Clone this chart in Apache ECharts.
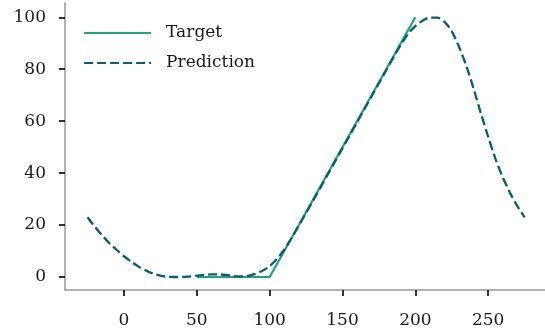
<!DOCTYPE html>
<html>
<head>
<meta charset="utf-8">
<script src="https://cdn.jsdelivr.net/npm/echarts@6/dist/echarts.min.js"></script>
<style>
  html, body { margin: 0; padding: 0; background: #fff; }
  #chart { width: 545px; height: 332px; }
</style>
</head>
<body>
<div id="chart"></div>
<script>
// Target: flat at zero, then a linear ramp up to 100
const targetX = [50, 100, 200];
const targetY = [0, 0, 100];

// Model prediction sampled every 5 units
const predX = [-25, -20, -15, -10, -5, 0, 5, 10, 15, 20, 25, 30, 35, 40, 45, 50, 55, 60, 65, 70,
  75, 80, 85, 90, 95, 100, 105, 110, 115, 120, 125, 130, 135, 140, 145, 150, 155, 160, 165, 170,
  175, 180, 185, 190, 195, 200, 205, 210, 215, 220, 225, 230, 235, 240, 245, 250, 255, 260, 265, 270, 275];
const predY = [23, 19.3, 16, 13, 10.4, 8, 5.9, 4, 2.5, 1.3, 0.5, 0.1, 0, 0, 0.2, 0.5, 0.8, 1, 1, 0.8,
  0.4, 0.2, 0.4, 1.2, 2.4, 4.2, 7, 10.5, 15, 19.8, 24.7, 29.6, 34.6, 39.6, 44.6, 49.6, 54.6, 59.6, 64.6, 69.6,
  74.6, 79.6, 84.6, 89.4, 93.6, 96.6, 98.7, 99.9, 99.9, 98.2, 94.6, 88.6, 81.3, 72.5, 63, 54, 45.5, 38.4, 32.4, 27.3, 23];

// Axis tick labels
const xTicks = [0, 50, 100, 150, 200, 250];
const yTicks = [0, 20, 40, 60, 80, 100];

const zip = (xs, ys) => xs.map((x, i) => [x, ys[i]]);
const font = 'DejaVu Serif';

const chart = echarts.init(document.getElementById('chart'), null, { renderer: 'canvas' });
chart.setOption({
  animation: false,
  backgroundColor: '#fff',
  grid: { left: 65, right: 0, top: 3, bottom: 42, containLabel: false },
  legend: {
    orient: 'vertical',
    left: 83,
    top: 23,
    padding: 0,
    itemWidth: 67,
    itemHeight: 14,
    itemGap: 10,
    itemStyle: { opacity: 0 },
    lineStyle: { width: 2.2 },
    textStyle: { fontFamily: font, fontSize: 17, lineHeight: 20, color: '#1a1a1a', padding: [0, 0, 0, 10] },
    data: ['Target', 'Prediction']
  },
  xAxis: {
    type: 'value',
    min: -40.5,
    max: 289,
    splitLine: { show: false },
    axisLine: { show: true, onZero: false, lineStyle: { color: '#999', width: 1.5 } },
    axisTick: { show: true, length: 6, customValues: xTicks, lineStyle: { color: '#000', width: 1.6 } },
    axisLabel: { customValues: xTicks, margin: 22, fontFamily: font, fontSize: 17, color: '#1a1a1a' }
  },
  yAxis: {
    type: 'value',
    min: -5,
    max: 105.5,
    splitLine: { show: false },
    axisLine: { show: true, onZero: false, lineStyle: { color: '#999', width: 1.5 } },
    axisTick: { show: true, length: 6, customValues: yTicks, lineStyle: { color: '#000', width: 1.6 } },
    axisLabel: { customValues: yTicks, margin: 19, fontFamily: font, fontSize: 17, color: '#1a1a1a' }
  },
  series: [
    {
      name: 'Target',
      type: 'line',
      data: zip(targetX, targetY),
      symbol: 'none',
      color: '#1fa47c',
      lineStyle: { color: '#1fa47c', width: 2.2 },
      z: 2
    },
    {
      name: 'Prediction',
      type: 'line',
      data: zip(predX, predY),
      symbol: 'none',
      smooth: 0.3,
      color: '#085c79',
      lineStyle: { color: '#085c79', width: 2.3, type: [9, 4] },
      z: 3
    }
  ]
});
</script>
</body>
</html>
